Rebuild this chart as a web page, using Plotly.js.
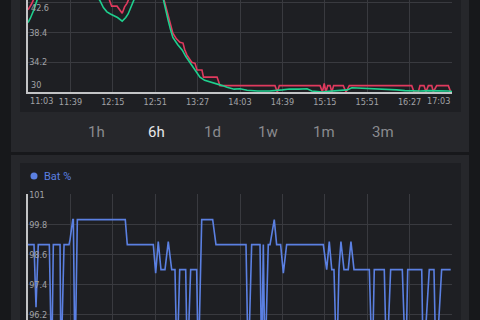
<!DOCTYPE html>
<html><head><meta charset="utf-8">
<script src="https://cdn.plot.ly/plotly-3.0.1.min.js"></script>
<style>html,body{margin:0;padding:0;background:#17181b;overflow:hidden}#chart{width:480px;height:320px}</style>
</head><body><div id="chart"></div>
<script>
// ---- data ----
const tickMinutes = [0,36,72,108,144,180,216,252,288,324,360];
const tickLabels = ["11:03","11:39","12:15","12:51","13:27","14:03","14:39","15:15","15:51","16:27","17:03"];
const tempTicks = [30,34.2,38.4,42.6];
const batTicks = [96.2,97.4,98.6,99.8,101];
const rangeButtons = ["1h","6h","1d","1w","1m","3m"];
const activeRange = "6h";
const batLegend = "Bat %";

// minutes after 11:03
const redT = [0,3,6,15,40,60,68,70,71,75.6,78,80,82,84,86.6,95,108,113,115.5,117,119,121,123,126,129,131.6,133,135,139,141.8,143.5,147.7,149,160.5,163,209.7,211.7,213.4,248,250,251.5,253,254.5,256.5,258,259.5,267.7,270,272.8,325.8,327.7,331.4,332.8,336.2,337.9,339.9,342.8,344.1,347,356.9,358.9,360];
const redV = [41.6,42.4,43.5,45.5,47,45,43.5,42.6,42.1,42.1,41.6,41.1,42.0,42.5,43.5,46,46.5,44.5,43.0,42.0,41.1,39.6,38.3,37.5,37.0,36.9,36.0,35.2,34.2,34.05,33.1,33.1,32.1,32.1,30.9,30.9,30.0,30.9,30.9,30.0,31.2,30.0,30.9,30.9,30.0,30.9,30.9,30.0,30.9,30.9,30.0,30.0,30.9,30.9,30.0,30.9,30.9,30.0,30.9,30.9,30.0,30.0];

const greenT = [0,2,5,7,9,15,25,40,52,58,61,64,67,70,72,76,80,83,85,87,88,90,95,105,112,115,117,119,121,123,127,131,134,137.5,141,143.5,146,150,155,160.5,165,169,175,180,186,195,205,216,222,230,237,241,246,250,255,259,266,271,275,283,290,302,313,320,327,333,340,350,357,360];
const greenV = [39.8,40.4,41.6,42.6,43.6,45,46,46.5,45,43.6,42.9,41.9,41.3,41.0,40.85,40.5,40.0,40.5,41.0,41.9,42.5,43.2,45,46,44.5,43.0,41.3,40.1,38.8,37.7,36.7,35.9,35.0,34.2,33.3,32.8,32.1,31.65,31.4,31.2,30.9,30.66,30.4,30.45,30.24,30.14,30.14,30.3,30.43,30.4,30.45,30.14,30.05,30.0,30.1,30.14,30.2,30.3,30.6,30.55,30.5,30.45,30.3,30.2,30.14,30.14,30.2,30.2,30.14,30.05];

const batT = [0,5.1,6.8,8.7,18.1,20.1,21.5,27.2,28,30.6,34.8,35.7,38,38.5,39.9,41.9,82.6,84.3,106.4,108.4,110.6,112.9,116.3,119.1,122,124.8,126.5,128.8,133.9,135.3,138.1,143.2,144.6,147.5,156.8,159.6,185.1,187,189.9,197,198.4,199.8,201.2,204,205.5,209.1,211.1,214.5,216.8,219.6,250.7,253.6,255.8,257.9,259.8,262.1,264,265.7,268.3,271.9,274.2,276.8,289.8,292.3,294,302.5,304.5,307.9,317.8,320.7,322.4,334.3,335.6,340.7,344.7,346.4,351.2,358.9];
const batV = [99,99,96.5,99,99,94,99,99,94,99,99,99.2,100,100,94,100,100,99,99,97.86,99.12,98,98,99.12,98,98,94,98,98,94,98,98,94,100,100,99,99,94,99,99,94,99,94,99,99,100,99,99,97.86,99,99,98,99.12,98,98,94,98,99.12,98,98,99.12,98,98,94,98,98,94,98,98,94,98,98,94,98,98,94,98,98];

// ---- layout helpers ----
const W = 480, H = 320;
const px = x => x / W;
const py = y => 1 - y / H;
const FONT = "DejaVu Sans Condensed, DejaVu Sans, sans-serif";
const BTNFONT = "Roboto, DejaVu Sans, sans-serif";
const gridCol = "#393a3f", axisCol = "#c3c4c6", tickCol = "#a2a3a7";
const panelCard = "#26272b", panelInner = "#1e1f23";
const TS = 9;

const traces = [
  {x: redT, y: redV, type: "scatter", mode: "lines", line: {color: "#e03a5e", width: 1.6}, xaxis: "x", yaxis: "y"},
  {x: greenT, y: greenV, type: "scatter", mode: "lines", line: {color: "#1fcf8e", width: 1.6}, xaxis: "x", yaxis: "y"},
  {x: batT, y: batV, type: "scatter", mode: "lines", line: {color: "#5b80e2", width: 1.6}, xaxis: "x2", yaxis: "y2"}
];

const midText = tickLabels.map((t, i) => (i === 0 || i === tickLabels.length - 1) ? "" : t);
const tempText = tempTicks.map((t, i) => (i === 0 || i === tempTicks.length - 1) ? "" : String(t));

const shapes = [
  {type: "rect", xref: "paper", yref: "paper", x0: px(11), x1: px(469), y0: py(152), y1: py(-10), fillcolor: panelCard, line: {width: 0}, layer: "below"},
  {type: "rect", xref: "paper", yref: "paper", x0: px(20), x1: px(461), y0: py(112), y1: py(-10), fillcolor: panelInner, line: {width: 0}, layer: "below"},
  {type: "rect", xref: "paper", yref: "paper", x0: px(11), x1: px(469), y0: py(330), y1: py(155), fillcolor: panelCard, line: {width: 0}, layer: "below"},
  {type: "rect", xref: "paper", yref: "paper", x0: px(20), x1: px(461), y0: py(330), y1: py(163), fillcolor: panelInner, line: {width: 0}, layer: "below"},
  {type: "circle", xref: "paper", yref: "paper", x0: px(30.5), x1: px(37.5), y0: py(179.5), y1: py(172.5), fillcolor: "#5b80e2", line: {width: 0}}
];

const btnX = [96, 156, 212, 268, 324, 383];
const annotations = [
  {xref: "x", yref: "paper", x: tickMinutes[0], y: py(101), xanchor: "left", yanchor: "middle", text: tickLabels[0], showarrow: false, font: {size: TS, color: tickCol, family: FONT}},
  {xref: "x", yref: "paper", x: tickMinutes[tickMinutes.length-1], y: py(101), xanchor: "right", yanchor: "middle", text: tickLabels[tickLabels.length-1], showarrow: false, font: {size: TS, color: tickCol, family: FONT}},
  {xref: "paper", yref: "paper", x: px(29), y: py(85), xanchor: "left", yanchor: "middle", text: String(tempTicks[0]), showarrow: false, font: {size: TS, color: tickCol, family: FONT}},
  {xref: "paper", yref: "paper", x: px(29), y: py(0.5), xanchor: "left", yanchor: "top", text: String(tempTicks[tempTicks.length-1]), showarrow: false, font: {size: TS, color: tickCol, family: FONT}},
  {xref: "paper", yref: "paper", x: px(42), y: py(176), xanchor: "left", yanchor: "middle", text: batLegend, showarrow: false, font: {size: 11, color: "#5b80e2", family: BTNFONT}}
];
rangeButtons.forEach((b, i) => {
  annotations.push({xref: "paper", yref: "paper", x: px(btnX[i]), y: py(132), xanchor: "center", yanchor: "middle", text: b, showarrow: false,
    font: {size: 15, color: b === activeRange ? "#e8e8ea" : "#8a8b8f", family: BTNFONT}});
});

const xCommon = {range: [0, 360], tickmode: "array", tickvals: tickMinutes, showgrid: true, gridcolor: gridCol, gridwidth: 1, zeroline: false, ticks: "", fixedrange: true};
const yCommon = {tickmode: "array", ticklabelposition: "inside", ticklabeloverflow: "allow", showgrid: true, gridcolor: gridCol, zeroline: false, showline: true, linecolor: axisCol, linewidth: 2, ticks: "", tickfont: {size: TS, color: tickCol, family: FONT}, fixedrange: true};
const layout = {
  width: W, height: H,
  margin: {l: 0, r: 0, t: 0, b: 0},
  paper_bgcolor: "#17181b", plot_bgcolor: "rgba(0,0,0,0)",
  showlegend: false, hovermode: false,
  font: {family: FONT, color: tickCol, size: TS},
  xaxis: Object.assign({}, xCommon, {domain: [px(28), px(452)], anchor: "y", ticktext: midText, showline: true, linecolor: axisCol, linewidth: 2, tickfont: {size: TS, color: tickCol, family: FONT}}),
  yaxis: Object.assign({}, yCommon, {domain: [py(92), 1], anchor: "x", range: [30, 42.97], tickvals: tempTicks, ticktext: tempText}),
  xaxis2: Object.assign({}, xCommon, {domain: [px(28), px(452)], anchor: "y2", showticklabels: false, showline: false}),
  yaxis2: Object.assign({}, yCommon, {domain: [0, py(194.3)], anchor: "x2", range: [95.99, 101.01], tickvals: batTicks, ticktext: batTicks.map(String)}),
  shapes: shapes,
  annotations: annotations
};
Plotly.newPlot("chart", traces, layout, {displayModeBar: false, staticPlot: true});
</script></body></html>
